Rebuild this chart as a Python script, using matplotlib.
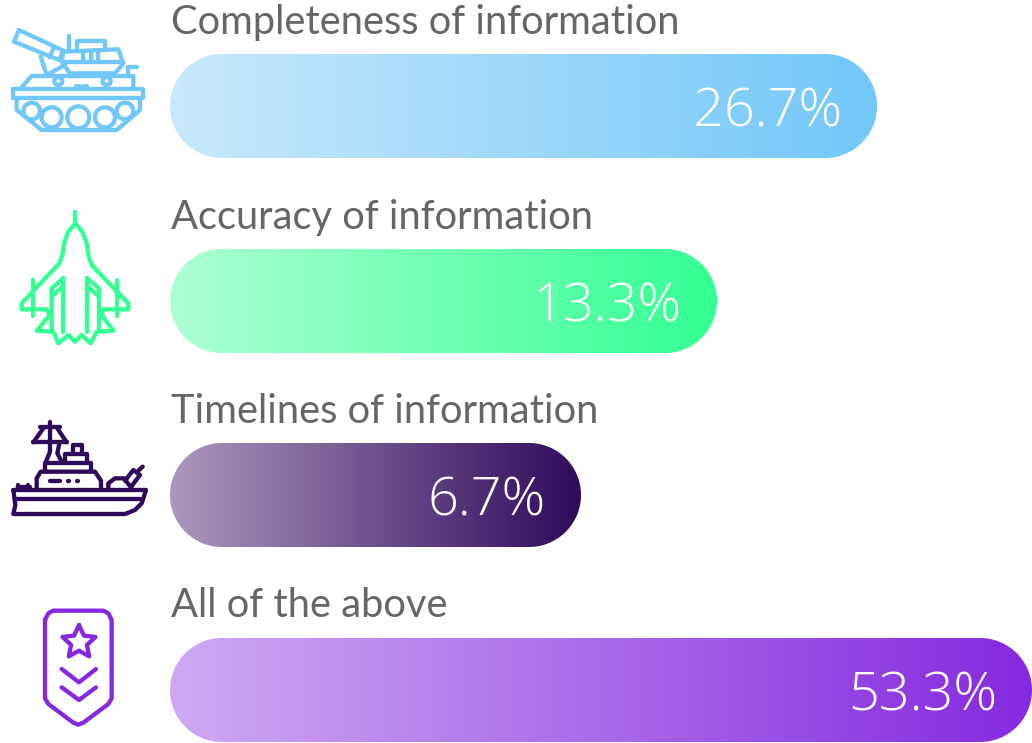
import numpy as np
import matplotlib
matplotlib.use('Agg')
import matplotlib.pyplot as plt
from matplotlib.colors import LinearSegmentedColormap
from matplotlib.patches import Polygon, Circle

categories = ['Completeness of information', 'Accuracy of information', 'Timelines of information', 'All of the above']
values = [26.7, 13.3, 6.7, 53.3]
# bar lengths are not proportional to the values in the original, read off in pixels
bar_lengths = [707, 547, 411, 862]
colors_start = ['#C9E9FC', '#ADFFD5', '#AD97BE', '#CFAAF3']
colors_end = ['#72C7F9', '#33FF92', '#2F0A5C', '#8529E0']

bar_left = 170
bar_tops = [54, 249, 443, 638]
bar_height = 104
label_base = [34, 229, 423, 617]
text_grey = '#666666'
icon_lw = 3.1

fig = plt.figure(figsize=(10.32, 7.43), dpi=100)
ax = fig.add_axes([0, 0, 1, 1])


def pill(x, y, w, h):
    # rounded bar outline with true half circle ends
    r = h / 2
    t = np.linspace(-np.pi / 2, np.pi / 2, 80)
    right = np.column_stack([x + w - r + r * np.cos(t), y + r + r * np.sin(t)])
    left = np.column_stack([x + r - r * np.cos(t), y + r - r * np.sin(t)])
    return np.vstack([right, left])


for i in range(len(values)):
    top = bar_tops[i]
    length = bar_lengths[i]
    cmap = LinearSegmentedColormap.from_list('b%d' % i, [colors_start[i], colors_end[i]])
    im = ax.imshow(np.linspace(0, 1, 256).reshape(1, -1), cmap=cmap, aspect='auto',
                   extent=[bar_left, bar_left + length, top + bar_height, top], zorder=1)
    patch = Polygon(pill(bar_left, top, length, bar_height), closed=True, fc='none', ec='none')
    ax.add_patch(patch)
    im.set_clip_path(patch)
    ax.text(bar_left + 1, label_base[i], categories[i], fontsize=28.7, family='Lato',
            color=text_grey, va='baseline', ha='left')
    ax.text(bar_left + length - 35, top + 52, '%.1f%%' % values[i], fontsize=39, family='Open Sans',
            weight='light', color='white', va='center_baseline', ha='right', zorder=3)


def icon_line(pts, off, color, closed=False, lw=icon_lw):
    p = np.array(pts, dtype=float)
    if closed:
        p = np.vstack([p, p[0]])
    ax.plot(off[0] + p[:, 0] / 3, off[1] + p[:, 1] / 3, color=color, lw=lw,
            solid_capstyle='round', solid_joinstyle='round', zorder=2)


def icon_circle(x, y, r, off, color, lw=icon_lw):
    ax.add_patch(Circle((off[0] + x / 3, off[1] + y / 3), r / 3, fc='white', ec=color, lw=lw, zorder=2))


# tank
c = colors_end[0]
o = (0, 10)
icon_line([(57, 60), (190, 122), (177, 150), (42, 95)], o, c, True)
icon_line([(162, 112), (149, 142)], o, c)
icon_line([(190, 125), (355, 118), (370, 160), (345, 190), (210, 190), (185, 155)], o, c, True)
icon_line([(232, 118), (232, 92), (315, 92), (315, 118)], o, c)
icon_line([(208, 78), (208, 122)], o, c)
icon_line([(250, 122), (250, 152)], o, c)
icon_line([(272, 122), (272, 152)], o, c)
icon_line([(295, 122), (295, 152)], o, c)
icon_line([(188, 155), (368, 155)], o, c)
icon_line([(122, 140), (140, 195), (195, 165)], o, c)
icon_line([(62, 235), (95, 198), (400, 198), (400, 235)], o, c)
icon_line([(385, 198), (385, 172), (410, 172)], o, c)
icon_circle(175, 213, 12, o, c)
icon_circle(320, 213, 12, o, c)
icon_line([(225, 235), (225, 224), (240, 224), (240, 235)], o, c, lw=2)
icon_line([(248, 235), (248, 224), (260, 224), (260, 235)], o, c, lw=2)
icon_line([(40, 238), (430, 238), (430, 265), (40, 265)], o, c, True)
icon_line([(50, 265), (50, 300), (125, 360), (350, 360), (420, 300), (420, 265)], o, c)
for w in [(95, 303, 25), (155, 322, 30), (235, 322, 33), (315, 322, 30), (375, 303, 25)]:
    icon_circle(w[0], w[1], w[2], o, c)

# jet
c = colors_end[1]
o = (0, 200)
icon_line([(226, 35), (226, 70)], o, c)
icon_line([(226, 70), (205, 95), (192, 130), (187, 165), (178, 190), (65, 310), (65, 328), (140, 328), (150, 345),
           (110, 392), (160, 395), (175, 430), (205, 405), (225, 425), (245, 405), (272, 430), (290, 395),
           (340, 392), (305, 345), (310, 328), (385, 328), (385, 310), (275, 195), (265, 165), (260, 130), (247, 95)],
          o, c, True)
icon_line([(190, 235), (155, 265), (155, 395)], o, c)
icon_line([(190, 235), (190, 395)], o, c)
icon_line([(155, 290), (190, 258)], o, c)
icon_line([(262, 235), (297, 265), (297, 395)], o, c)
icon_line([(262, 235), (262, 395)], o, c)
icon_line([(297, 290), (262, 258)], o, c)
icon_line([(100, 240), (100, 348)], o, c)
icon_line([(350, 240), (350, 348)], o, c)

# ship
c = colors_end[2]
o = (0, 410)
icon_line([(120, 52), (180, 52)], o, c)
icon_line([(150, 35), (150, 95)], o, c)
icon_line([(100, 97), (200, 97)], o, c)
icon_line([(100, 97), (130, 55)], o, c)
icon_line([(200, 97), (172, 55)], o, c)
icon_line([(150, 97), (150, 125), (138, 155)], o, c)
icon_line([(178, 100), (172, 130), (185, 155)], o, c)
icon_line([(135, 182), (135, 158), (272, 158), (272, 182)], o, c)
icon_line([(110, 235), (110, 205), (122, 185), (285, 185), (303, 212), (303, 235)], o, c)
icon_line([(195, 156), (195, 132), (262, 132), (262, 156)], o, c)
icon_line([(220, 130), (220, 105), (247, 105), (247, 130)], o, c)
icon_line([(150, 212), (180, 212)], o, c)
icon_line([(205, 213), (208, 213)], o, c)
icon_line([(231, 213), (234, 213)], o, c)
icon_line([(325, 238), (325, 220), (345, 205), (372, 205), (395, 235)], o, c)
icon_line([(375, 212), (400, 180), (420, 195), (395, 228)], o, c)
icon_line([(415, 182), (428, 170)], o, c)
icon_line([(40, 240), (438, 240), (425, 280), (405, 300), (375, 312), (40, 312), (46, 285)], o, c, True)
icon_line([(50, 268), (420, 268)], o, c)
icon_line([(55, 225), (55, 238)], o, c)
icon_line([(85, 225), (85, 238)], o, c)
icon_line([(55, 230), (90, 230)], o, c)

# rank badge
c = colors_end[3]
o = (20, 600)
icon_line([(75, 60), (85, 40), (100, 32), (250, 32), (265, 40), (275, 60), (275, 295), (265, 312), (190, 368), (175, 374), (160, 368), (85, 312), (75, 295)], o, c, True)
ang = np.deg2rad(-90 + 36 * np.arange(10))
rad = np.where(np.arange(10) % 2 == 0, 52, 25)
icon_line(list(zip(177 + rad * np.cos(ang), 127 + rad * np.sin(ang))), o, c, True)
icon_line([(125, 207), (177, 247), (228, 207)], o, c)
icon_line([(125, 262), (177, 300), (228, 262)], o, c)

ax.set_xlim(0, 1032)
ax.set_ylim(743, 0)
ax.axis('off')
fig.savefig('out.png', dpi=100)
